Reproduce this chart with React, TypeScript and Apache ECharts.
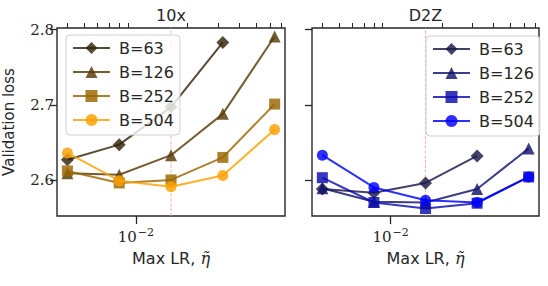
import React, { useEffect, useRef } from 'react';
import * as echarts from 'echarts';

const PANELS = ['10x', 'D2Z'];
const LR = [0.004, 0.008, 0.016, 0.032, 0.064];
const BATCH = ['B=63', 'B=126', 'B=252', 'B=504'];
const SYMBOLS = ['diamond', 'triangle', 'rect', 'circle'];
const SYMBOL_SIZES = [13, 12, 11, 11];

const LOSS_10X = [
  [2.627, 2.647, 2.697, 2.783],
  [2.609, 2.607, 2.633, 2.688, 2.791],
  [2.612, 2.596, 2.6, 2.63, 2.701],
  [2.636, 2.599, 2.591, 2.606, 2.667],
];
const LOSS_D2Z = [
  [2.588, 2.583, 2.596, 2.632],
  [2.589, 2.571, 2.57, 2.588, 2.642],
  [2.603, 2.57, 2.562, 2.569, 2.604],
  [2.633, 2.59, 2.573, 2.57, 2.604],
];
const COLORS_10X = ['#33230a', '#573a06', '#9a6500', '#ffa000'];
const COLORS_D2Z = ['#1a1a45', '#14146c', '#0b0bb0', '#0000ff'];

const Y_TICKS = [2.6, 2.7, 2.8];
const X_MAJOR = [0.01];
const X_MINOR = [0.004, 0.005, 0.006, 0.007, 0.008, 0.009, 0.02, 0.03, 0.04, 0.05, 0.06, 0.07];
const REF_LR = 0.016;
const X_RANGE = [0.00348, 0.0735];
const Y_RANGE = [2.552, 2.8023];

const INK = '#262626';
const SANS = 'DejaVu Sans';
const SERIF = 'DejaVu Serif';

const GRIDS = [
  { left: 57, top: 28, width: 228, height: 188 },
  { left: 312, top: 28, width: 227, height: 188 },
];

export default function App() {
  const ref = useRef<HTMLDivElement>(null);
  useEffect(() => {
    if (!ref.current) return;
    const chart = echarts.init(ref.current, undefined, { renderer: 'svg' });
    const losses = [LOSS_10X, LOSS_D2Z];
    const colors = [COLORS_10X, COLORS_D2Z];

    const xAxis: any[] = [];
    const yAxis: any[] = [];
    const series: any[] = [];
    const legend: any[] = [];

    PANELS.forEach((panel, p) => {
      xAxis.push({
        type: 'log',
        logBase: 10,
        gridIndex: p,
        min: X_RANGE[0],
        max: X_RANGE[1],
        axisLine: { show: false },
        splitLine: { show: false },
        axisTick: { show: true, length: 8, customValues: X_MAJOR, lineStyle: { color: INK, width: 1.3 } },
        axisLabel: {
          customValues: X_MAJOR,
          margin: 11,
          formatter: (v: number) => `{b|10}{s|−${Math.round(-Math.log10(v))}}`,
          rich: {
            b: { fontFamily: SERIF, fontSize: 15, color: INK },
            s: { fontFamily: SERIF, fontSize: 11, color: INK, padding: [0, 0, 8, 1] },
          },
        },
      });
      xAxis.push({
        type: 'log',
        logBase: 10,
        gridIndex: p,
        min: X_RANGE[0],
        max: X_RANGE[1],
        axisLine: { show: false },
        splitLine: { show: false },
        axisTick: { show: true, length: 5, customValues: X_MINOR, lineStyle: { color: INK, width: 1 } },
        axisLabel: { show: false },
      });
      yAxis.push({
        type: 'value',
        gridIndex: p,
        min: Y_RANGE[0],
        max: Y_RANGE[1],
        axisLine: { show: false },
        splitLine: { show: false },
        axisTick: { show: true, length: 7, customValues: Y_TICKS, lineStyle: { color: INK, width: 1.3 } },
        axisLabel: {
          show: p === 0,
          customValues: Y_TICKS,
          formatter: (v: number) => v.toFixed(1),
          fontFamily: SERIF,
          fontSize: 15,
          color: INK,
          margin: 3,
        },
      });

      series.push({
        type: 'line',
        name: `${panel}|ref`,
        xAxisIndex: 2 * p,
        yAxisIndex: p,
        data: [[REF_LR, Y_RANGE[0]], [REF_LR, Y_RANGE[1]]],
        symbol: 'none',
        silent: true,
        z: 1,
        lineStyle: { type: 'dashed', color: '#ff9c9c', width: 0.8 },
      });

      BATCH.forEach((b, k) => {
        series.push({
          type: 'line',
          name: `${panel}|${b}`,
          xAxisIndex: 2 * p,
          yAxisIndex: p,
          data: losses[p][k].map((y, i) => [LR[i], y]),
          symbol: SYMBOLS[k],
          symbolSize: SYMBOL_SIZES[k],
          z: 2 + k,
          lineStyle: { color: colors[p][k], width: 2, opacity: 0.82 },
          itemStyle: { color: colors[p][k], opacity: 0.82 },
        });
      });

      legend.push({
        data: BATCH.map((b) => `${panel}|${b}`),
        formatter: (n: string) => n.split('|')[1],
        orient: 'vertical',
        left: p === 0 ? 66 : 426,
        top: p === 0 ? 35 : 36,
        itemWidth: 37,
        itemHeight: 15,
        itemGap: 8,
        padding: [5, 6, 7, 6],
        borderColor: '#cfcfcf',
        borderWidth: 1,
        borderRadius: 4,
        backgroundColor: 'rgba(255,255,255,0.8)',
        selectedMode: false,
        textStyle: { fontFamily: SANS, fontSize: 16, color: INK, padding: [0, 0, 0, 4] },
      });
    });

    const graphic: any[] = [];
    GRIDS.forEach((g, p) => {
      const cx = g.left + g.width / 2;
      graphic.push({
        type: 'text',
        x: cx,
        y: 15,
        style: { text: PANELS[p], fontFamily: SANS, fontSize: 16, fill: INK, align: 'center', verticalAlign: 'middle' },
      });
      graphic.push({
        type: 'text',
        x: cx,
        y: 258,
        style: {
          text: '{a|Max LR, }{e|η̃}',
          align: 'center',
          verticalAlign: 'middle',
          rich: {
            a: { fontFamily: SANS, fontSize: 16, fill: INK },
            e: { fontFamily: SERIF, fontStyle: 'italic', fontSize: 16, fill: INK },
          },
        },
      });
    });
    graphic.push({
      type: 'text',
      x: 9,
      y: 122,
      rotation: Math.PI / 2,
      style: { text: 'Validation loss', fontFamily: SANS, fontSize: 15, fill: INK, align: 'center', verticalAlign: 'middle' },
    });

    chart.setOption({
      animation: false,
      backgroundColor: '#ffffff',
      grid: GRIDS.map((g) => ({ ...g, show: true, borderColor: INK, borderWidth: 1.4, backgroundColor: 'transparent', containLabel: false })),
      xAxis,
      yAxis,
      series,
      legend,
      graphic,
    });
    return () => chart.dispose();
  }, []);
  return <div ref={ref} style={{ position: 'fixed', left: 0, top: 0, width: 548, height: 286 }} />;
}
